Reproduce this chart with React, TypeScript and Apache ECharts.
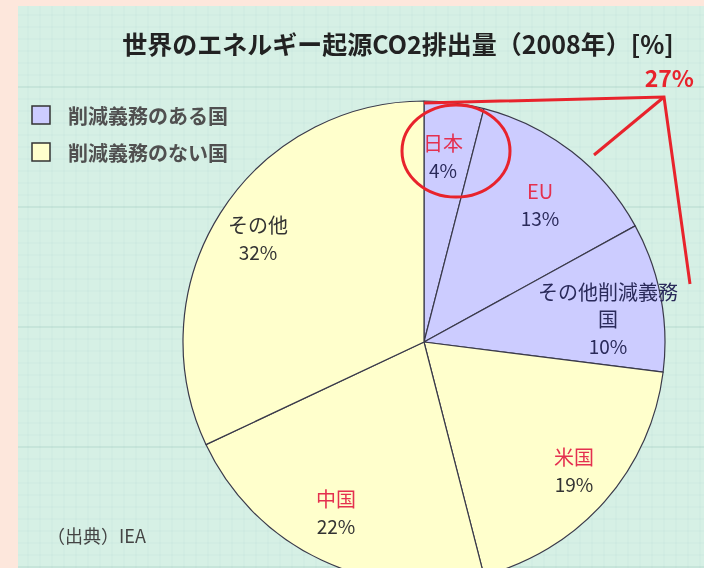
import React, { useEffect, useRef } from 'react';
import * as echarts from 'echarts';

// ---- data ----
const sliceNames = ['日本', 'EU', 'その他削減義務\n国', '米国', '中国', 'その他'];
const sliceValues = [4, 13, 10, 19, 22, 32];
const sliceGroups = [0, 0, 0, 1, 1, 1]; // 0: 削減義務のある国, 1: 削減義務のない国
const groupNames = ['削減義務のある国', '削減義務のない国'];
const redNames = ['日本', 'EU', '米国', '中国'];
const titleText = '世界のエネルギー起源CO2排出量（2008年）[%]';
const sourceText = '（出典）IEA';

// ---- style / layout ----
const groupColors = ['#ccccff', '#ffffcc'];
const FONT = '"Noto Sans CJK JP", "Noto Sans", sans-serif';
const PIE_CENTER: [number, number] = [424, 342];
const PIE_RADIUS = 241;
const labelAnchors: [number, number][] = [
  [443, 156],
  [540, 204],
  [608, 318],
  [574, 470],
  [336, 512],
  [258, 238],
];
const RED = '#e8232c';

export default function App() {
  const ref = useRef<HTMLDivElement>(null);

  useEffect(() => {
    if (!ref.current) return;
    const chart = echarts.init(ref.current, null, { renderer: 'svg' });

    const groupTotal = sliceValues.reduce((s, v, i) => (sliceGroups[i] === 0 ? s + v : s), 0);

    const gridLines: any[] = [];
    for (let y = 15; y < 568; y += 12) {
      gridLines.push({
        type: 'line',
        silent: true,
        shape: { x1: 18, y1: y, x2: 704, y2: y },
        style: { stroke: 'rgba(140,195,175,0.08)', lineWidth: 1 },
      });
    }
    for (let x = 28; x < 704; x += 12) {
      gridLines.push({
        type: 'line',
        silent: true,
        shape: { x1: x, y1: 6, x2: x, y2: 568 },
        style: { stroke: 'rgba(140,195,175,0.08)', lineWidth: 1 },
      });
    }
    for (let y = 87; y < 568; y += 120) {
      gridLines.push({
        type: 'line',
        silent: true,
        shape: { x1: 18, y1: y, x2: 704, y2: y },
        style: { stroke: 'rgba(120,180,160,0.25)', lineWidth: 1 },
      });
    }

    const legendEls: any[] = [];
    groupNames.forEach((g, i) => {
      const y = 106 + i * 37;
      legendEls.push({
        type: 'rect',
        shape: { x: 32, y, width: 18, height: 18 },
        style: { fill: groupColors[i], stroke: '#333', lineWidth: 1.5 },
      });
      legendEls.push({
        type: 'text',
        x: 68,
        y: y + 9,
        style: {
          text: g,
          fill: '#505050',
          font: `bold 20px ${FONT}`,
          verticalAlign: 'middle',
        },
      });
    });

    const option: any = {
      animation: false,
      backgroundColor: 'transparent',
      title: {
        text: titleText,
        left: 398,
        top: 30,
        padding: 0,
        textAlign: 'center',
        textStyle: { fontFamily: FONT, fontSize: 25, lineHeight: 26, fontWeight: 'bold', color: '#222' },
      },
      graphic: [
        { type: 'rect', silent: true, shape: { x: 0, y: 0, width: 704, height: 568 }, style: { fill: '#fde7dc' } },
        { type: 'rect', silent: true, shape: { x: 18, y: 6, width: 686, height: 562 }, style: { fill: '#d6f0e5' } },
        ...gridLines,
        ...legendEls,
        {
          type: 'text',
          x: 47,
          y: 535,
          style: { text: sourceText, fill: '#444', font: `18px ${FONT}`, verticalAlign: 'middle' },
        },
        {
          type: 'text',
          x: 694,
          y: 77,
          z: 100,
          style: {
            text: `${groupTotal}%`,
            fill: RED,
            font: `bold 23px ${FONT}`,
            align: 'right',
            verticalAlign: 'middle',
          },
        },
        {
          type: 'polyline',
          z: 100,
          shape: { points: [[424, 103], [664, 97], [690, 284]] },
          style: { stroke: RED, lineWidth: 3, fill: 'none' },
        },
        {
          type: 'line',
          z: 100,
          shape: { x1: 664, y1: 97, x2: 594, y2: 155 },
          style: { stroke: RED, lineWidth: 3 },
        },
        {
          type: 'ellipse',
          z: 100,
          shape: { cx: 456, cy: 151, rx: 54, ry: 46 },
          style: { stroke: RED, lineWidth: 3, fill: 'none' },
        },
      ],
      series: [
        {
          type: 'pie',
          center: PIE_CENTER,
          radius: PIE_RADIUS,
          startAngle: 90,
          clockwise: true,
          avoidLabelOverlap: false,
          emphasis: { disabled: true },
          itemStyle: { borderColor: '#3a3a4a', borderWidth: 1.2 },
          data: sliceValues.map((v, i) => ({
            name: sliceNames[i],
            value: v,
            itemStyle: { color: groupColors[sliceGroups[i]] },
          })),
          label: {
            show: true,
            position: 'inside',
            fontFamily: FONT,
            formatter: (p: any) => {
              const i = p.dataIndex;
              const blue = sliceGroups[i] === 0;
              const nameStyle = redNames.includes(p.name) ? 'r' : blue ? 'nb' : 'nd';
              const valStyle = blue ? 'vb' : 'vd';
              const lines = String(p.name).split('\n');
              return lines.map((l) => `{${nameStyle}|${l}}`).join('\n') + `\n{${valStyle}|${p.value}%}`;
            },
            rich: {
              r: { color: '#e4304f', fontSize: 20, lineHeight: 27, fontFamily: FONT },
              nb: { color: '#2a2a5a', fontSize: 20, lineHeight: 27, fontFamily: FONT },
              nd: { color: '#333333', fontSize: 20, lineHeight: 27, fontFamily: FONT },
              vb: { color: '#2a2a5a', fontSize: 19, lineHeight: 27, fontFamily: FONT },
              vd: { color: '#333333', fontSize: 19, lineHeight: 27, fontFamily: FONT },
            },
          },
          labelLine: { show: false },
          labelLayout: (p: any) => ({
            x: labelAnchors[p.dataIndex][0],
            y: labelAnchors[p.dataIndex][1],
            align: 'center',
            verticalAlign: 'middle',
          }),
        },
      ],
    };

    chart.setOption(option);
    return () => chart.dispose();
  }, []);

  return (
    <div
      ref={ref}
      style={{ position: 'fixed', left: 0, top: 0, width: 704, height: 568 }}
    />
  );
}
